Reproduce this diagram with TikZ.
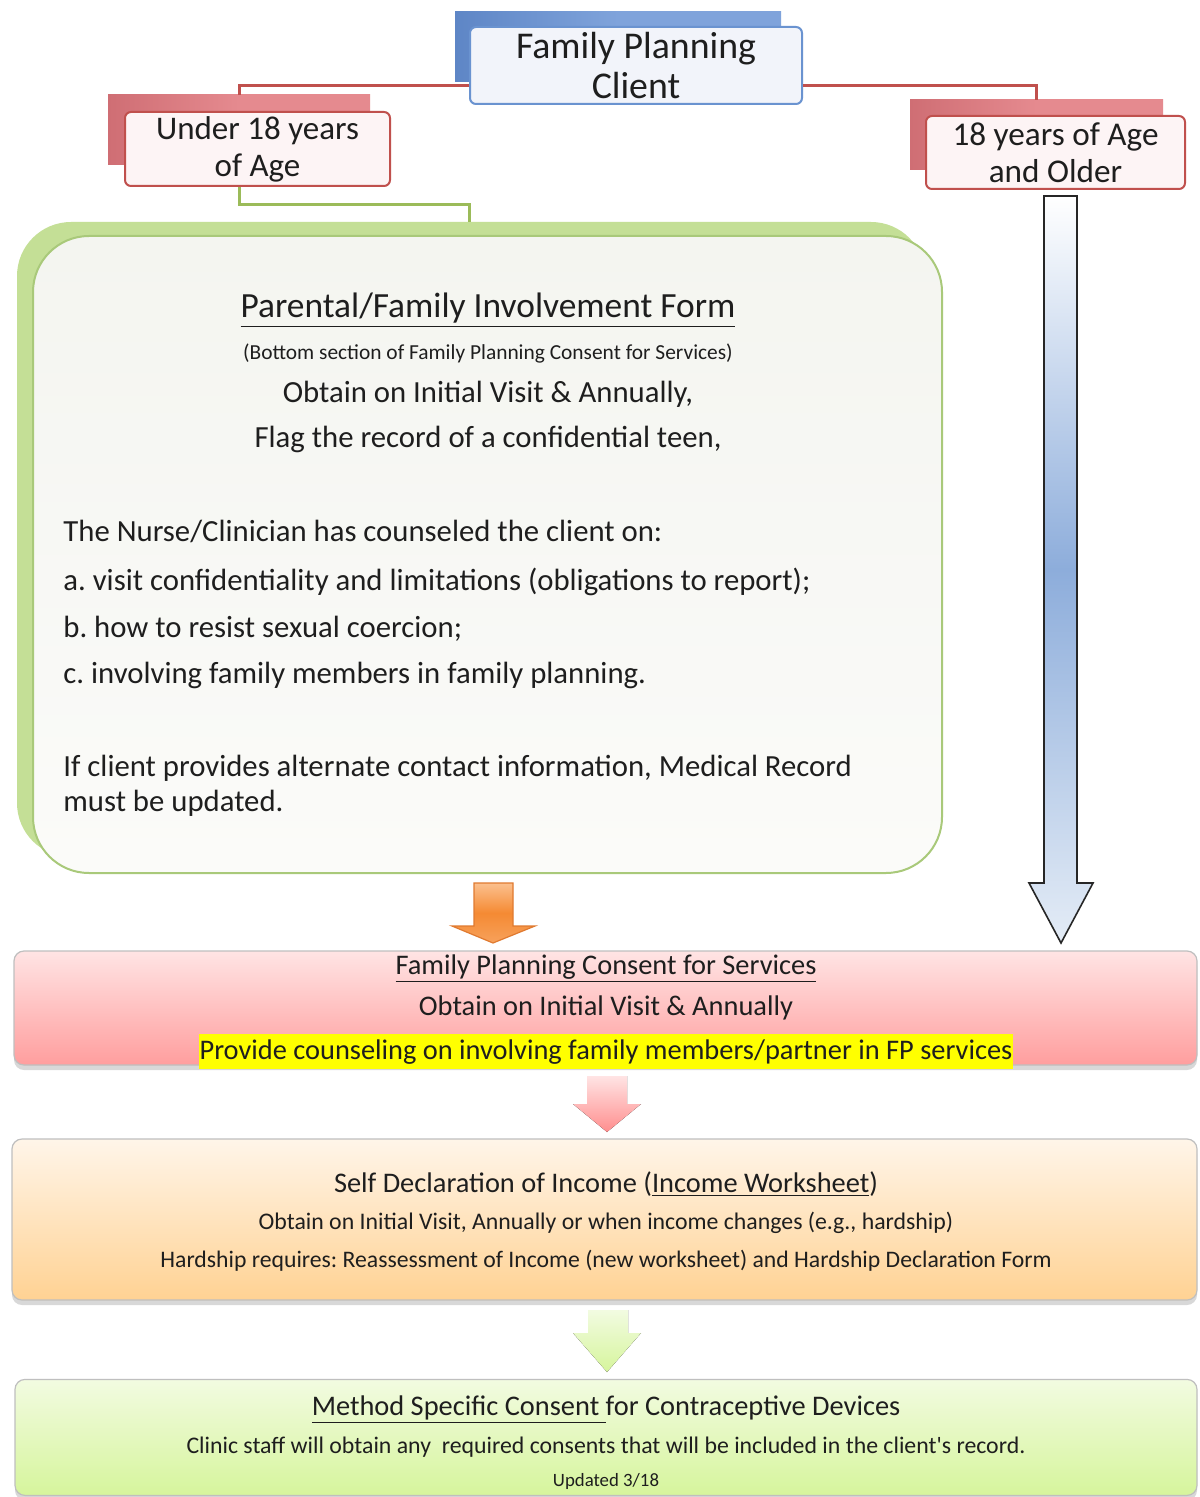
\documentclass[tikz,border=0pt]{standalone}
\usepackage{fontspec}
\setmainfont{Carlito}[Ligatures=TeXOff]
\usetikzlibrary{shadows,calc}
\definecolor{txt}{HTML}{1E1E1E}
\definecolor{fpback}{HTML}{7FA3DB}
\definecolor{fpbackdark}{HTML}{5E86C6}
\definecolor{fpfill}{HTML}{F2F4FA}
\definecolor{fpborder}{HTML}{6A93D0}
\definecolor{rback}{HTML}{E58A8F}
\definecolor{rbackdark}{HTML}{CF6E74}
\definecolor{rfill}{HTML}{FDF4F5}
\definecolor{rborder}{HTML}{C0504D}
\definecolor{gline}{HTML}{9BBB59}
\definecolor{gback}{HTML}{C4DF96}
\definecolor{gborder}{HTML}{A9C97A}
\definecolor{bigtop}{HTML}{F4F5F0}
\definecolor{bigbot}{HTML}{FBFBF9}
\definecolor{pinktop}{HTML}{FFE4E4}
\definecolor{pinkbot}{HTML}{FF9E9E}
\definecolor{ortop}{HTML}{FFF5E9}
\definecolor{orbot}{HTML}{FFD293}
\definecolor{grtop}{HTML}{F2FBE1}
\definecolor{grbot}{HTML}{D6F59C}
\definecolor{oarrtop}{HTML}{FBC08E}
\definecolor{oarrmid}{HTML}{F58A33}
\definecolor{oarrborder}{HTML}{E07A30}
\definecolor{barrmid}{HTML}{8DADDB}
\definecolor{barrend}{HTML}{E4ECF6}
\definecolor{hl}{HTML}{FFFF00}
\tikzset{
  backbox/.style={inner sep=0pt,rectangle},
  frontbox/.style={inner sep=0pt,rectangle,rounded corners=3pt,line width=1pt,align=center,text=txt},
  lowbox/.style={inner sep=0pt,rectangle,rounded corners=5pt,draw=black!25,line width=0.6pt,
     drop shadow={shadow xshift=0pt,shadow yshift=-2.5pt,opacity=0.3}},
  txtline/.style={anchor=base,inner sep=0pt,text=txt},
  ltxt/.style={anchor=base west,inner sep=0pt,text=txt},
  redline/.style={draw=rborder,line width=1.5pt},
  greenline/.style={draw=gline,line width=1.5pt},
}
\newcommand\fsz[2]{\fontsize{#1}{#2}\selectfont}
\begin{document}
\frenchspacing
\begin{tikzpicture}[x=0.5pt,y=-0.5pt]
\clip (0,0) rectangle (1199,1497);
\fill[white] (0,0) rectangle (1199,1497);

% back boxes
\node[backbox,left color=fpbackdark,right color=fpback,middle color=fpback,minimum width=163pt,minimum height=35pt] (fpb) at (618,47) {};
\node[backbox,left color=rbackdark,right color=rback,middle color=rback,minimum width=131pt,minimum height=35pt] (u18b) at (239,130) {};
\node[backbox,left color=rbackdark,right color=rback,middle color=rback,minimum width=126.5pt,minimum height=35pt] (o18b) at (1036.5,135) {};

% front boxes
\node[frontbox,draw=fpborder,fill=fpfill,minimum width=166pt,minimum height=38.5pt,font=\fsz{18.9}{20}] (fp) at (636,65.5) {Family Planning\\Client};

% red connectors
\draw[redline] ($(fp.west)+(0,20.5)$) -| (u18b.north);
\draw[redline] ($(fp.east)+(0,20.5)$) -| (o18b.north);

\node[frontbox,draw=rborder,fill=rfill,minimum width=132.5pt,minimum height=37pt,font=\fsz{16.5}{18.5}] (u18) at (257.5,149) {Under 18 years\\of Age};
\node[frontbox,draw=rborder,fill=rfill,minimum width=129.5pt,minimum height=36.5pt,font=\fsz{16.6}{18.5}] (o18) at (1055.5,152.5) {18 years of Age\\and Older};

% big box
\node[backbox,fill=gback,rounded corners=27pt,minimum width=454pt,minimum height=317.5pt] (bigb) at (471,539.5) {};
\draw[greenline] (u18.south -| u18b.north) |- (469,205) -- (469,222);
\node[backbox,draw=gborder,line width=1pt,top color=bigtop,bottom color=bigbot,rounded corners=28pt,minimum width=454.5pt,minimum height=318.5pt] (big) at (487.5,554.5) {};

\node[txtline,font=\fsz{17.7}{20}] (t1) at (488,318) {\underline{Parental/Family Involvement Form}};
\node[txtline,font=\fsz{10.7}{12}] (t2) at (488,360) {(Bottom section of Family Planning Consent for Services)};
\node[txtline,font=\fsz{15.37}{18}] (t3) at (488,403) {Obtain on Initial Visit \& Annually,};
\node[txtline,font=\fsz{15.37}{18}] (t4) at (488,448) {Flag the record of a confidential teen,};
\node[ltxt,font=\fsz{15.37}{18}] (t5) at (63,541) {The Nurse/Clinician has counseled the client on:};
\node[ltxt,font=\fsz{15.37}{18}] (t6) at (63,590) {a. visit confidentiality and limitations (obligations to report);};
\node[ltxt,font=\fsz{15.37}{18}] (t7) at (63,637) {b. how to resist sexual coercion;};
\node[ltxt,font=\fsz{15.37}{18}] (t8) at (63,683) {c. involving family members in family planning.};
\node[ltxt,font=\fsz{15.37}{18}] (t9) at (63,776) {If client provides alternate contact information, Medical Record};
\node[ltxt,font=\fsz{15.37}{18}] (t10) at (63,811) {must be updated.};

% orange arrow
\draw[draw=oarrborder,line width=0.6pt,top color=oarrtop,bottom color=oarrmid!80!white,middle color=oarrmid]
  (474,883) -- (513,883) -- (513,926) -- (535,926) -- (493,943) -- (452,926) -- (474,926) -- cycle;

% blue arrow
\draw[draw=black!85,line width=0.8pt,top color=white,bottom color=barrend,middle color=barrmid]
  (1044,196) -- (1077,196) -- (1077,883) -- (1093,883) -- (1061,943) -- (1029,883) -- (1044,883) -- cycle;

% pink box
\node[lowbox,top color=pinktop,bottom color=pinkbot,minimum width=591.5pt,minimum height=57pt] (pink) at (605.5,1008) {};
\node[txtline,font=\fsz{14.2}{17}] (p1) at (606,974) {\underline{Family Planning Consent for Services}};
\node[txtline,font=\fsz{14.2}{17}] (p2) at (606,1015) {Obtain on Initial Visit \& Annually};
\node[txtline,font=\fsz{14.2}{17},fill=hl,inner xsep=0.5pt,inner ysep=2.5pt] (p3) at (606,1059) {Provide counseling on involving family members/partner in FP services};

% pink arrow
\fill[top color=pinktop,bottom color=pinkbot!90!red]
  (587,1076) -- (627,1076) -- (627,1104) -- (641,1104) -- (607,1132) -- (573,1104) -- (587,1104) -- cycle;

% orange box
\node[lowbox,top color=ortop,bottom color=orbot,minimum width=592.5pt,minimum height=80.5pt] (inc) at (604.5,1219.5) {};
\node[txtline,font=\fsz{14.2}{17}] (o1) at (606,1192) {Self Declaration of Income (\underline{Income Worksheet})};
\node[txtline,font=\fsz{11.9}{14}] (o2) at (606,1229) {Obtain on Initial Visit, Annually or when income changes (e.g., hardship)};
\node[txtline,font=\fsz{11.85}{14}] (o3) at (606,1267) {Hardship requires: Reassessment of Income (new worksheet) and Hardship Declaration Form};

% green arrow
\fill[top color=grtop,bottom color=grbot]
  (588,1310) -- (628,1310) -- (628,1333) -- (641,1333) -- (607,1372) -- (573,1333) -- (588,1333) -- cycle;

% green box
\node[lowbox,top color=grtop,bottom color=grbot,minimum width=591pt,minimum height=58pt] (msc) at (606,1496) [anchor=south] {};
\node[txtline,font=\fsz{14.2}{17}] (g1) at (606,1415) {\underline{Method Specific Consent\ }for Contraceptive Devices};
\node[txtline,font=\fsz{11.9}{14}] (g2) at (606,1453) {Clinic staff will obtain any\ \ required consents that will be included in the client's record.};
\node[txtline,font=\fsz{9.4}{10}] (g3) at (606,1486) {Updated 3/18};
\end{tikzpicture}
\end{document}
